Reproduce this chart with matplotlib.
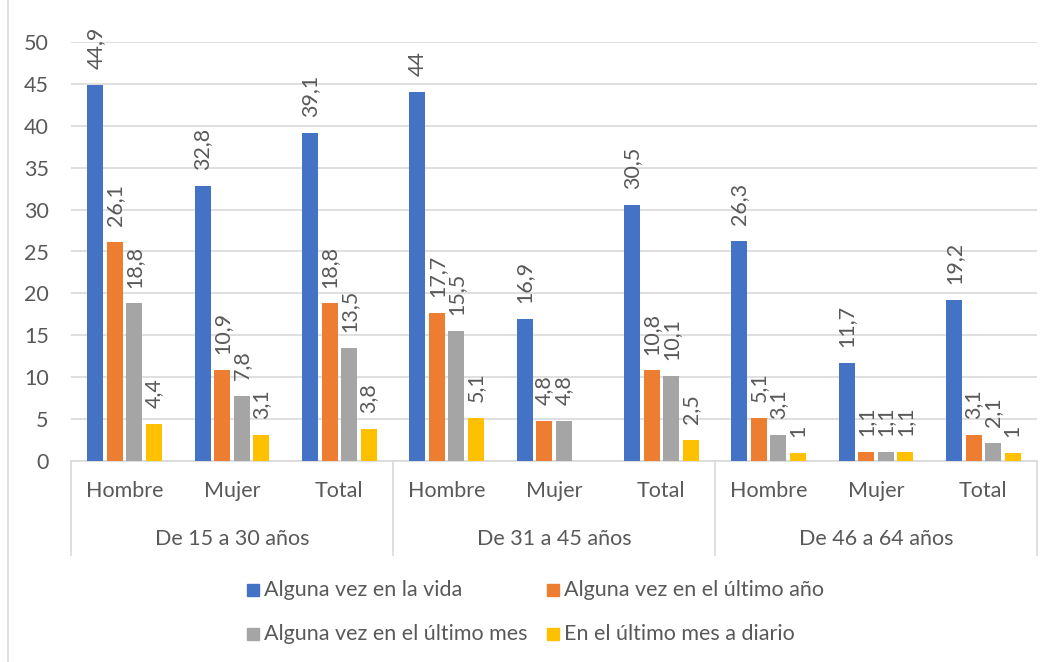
import matplotlib.pyplot as plt
from matplotlib.patches import Rectangle
from matplotlib.lines import Line2D

plt.rcParams['font.family'] = ['Lato', 'DejaVu Sans']

# data
groups = ['De 15 a 30 años', 'De 31 a 45 años', 'De 46 a 64 años']
sexes = ['Hombre', 'Mujer', 'Total']
series_names = ['Alguna vez en la vida', 'Alguna vez en el último año',
                'Alguna vez en el último mes', 'En el último mes a diario']
vida = [44.9, 32.8, 39.1, 44, 16.9, 30.5, 26.3, 11.7, 19.2]
ultimo_anio = [26.1, 10.9, 18.8, 17.7, 4.8, 10.8, 5.1, 1.1, 3.1]
ultimo_mes = [18.8, 7.8, 13.5, 15.5, 4.8, 10.1, 3.1, 1.1, 2.1]
diario = [4.4, 3.1, 3.8, 5.1, None, 2.5, 1, 1.1, 1]
colors = ['#4472C4', '#ED7D31', '#A5A5A5', '#FFC000']

txt = '#595959'
grid = '#D9D9D9'
fs = 15.5

W, H = 1052, 662
fig = plt.figure(figsize=(W / 100, H / 100), dpi=100)
ax = fig.add_axes([71 / W, 1 - 461 / H, 966 / W, 419 / H])

n = len(vida)
step = 0.182
width = 0.15
for i, (vals, col) in enumerate(zip([vida, ultimo_anio, ultimo_mes, diario], colors)):
    for j, v in enumerate(vals):
        if v is None:
            continue
        x = j + (i - 1.5) * step
        ax.bar(x, v, width=width, color=col, zorder=3)
        lab = ('%g' % v).replace('.', ',')
        ax.text(x, v + 1.9, lab, rotation=90, ha='center', va='bottom',
                fontsize=fs, color=txt, zorder=4)

ax.set_xlim(-0.5, n - 0.5)
ax.set_ylim(0, 50)
ax.set_yticks(range(0, 51, 5))
ax.tick_params(axis='y', length=0, labelsize=fs, labelcolor=txt, pad=16)
ax.set_xticks([])
ax.yaxis.grid(True, color=grid, lw=1.2, zorder=0)
for s in ['top', 'right', 'left']:
    ax.spines[s].set_visible(False)
ax.spines['bottom'].set_color(grid)
ax.spines['bottom'].set_linewidth(1.2)

# category labels below the axis
trans = ax.get_xaxis_transform()
for j in range(n):
    ax.text(j, -0.072, sexes[j % 3], transform=trans, ha='center', va='center',
            fontsize=fs, color=txt)
for g, name in enumerate(groups):
    ax.text(g * 3 + 1, -0.185, name, transform=trans, ha='center', va='center',
            fontsize=fs, color=txt)
for k in range(4):
    ax.add_line(Line2D([k * 3 - 0.5, k * 3 - 0.5], [0, -0.225], transform=trans,
                       color=grid, lw=1.2, clip_on=False))

# legend, laid out row by row like the reference
leg_x = [247, 547]
leg_y = [590, 634]
sq = 12
for k, name in enumerate(series_names):
    px = leg_x[k % 2]
    py = leg_y[k // 2]
    fig.add_artist(Rectangle((px / W, 1 - (py + sq / 2) / H), sq / W, sq / H,
                             transform=fig.transFigure, color=colors[k]))
    fig.text((px + sq + 5) / W, 1 - py / H, name, ha='left', va='center',
             fontsize=fs, color=txt)

# outer chart border
fig.add_artist(Rectangle((8 / W, -0.01), 1.1, 1.1, transform=fig.transFigure,
                         fill=False, edgecolor=grid, lw=1.2))

fig.savefig('out.png', dpi=100)
